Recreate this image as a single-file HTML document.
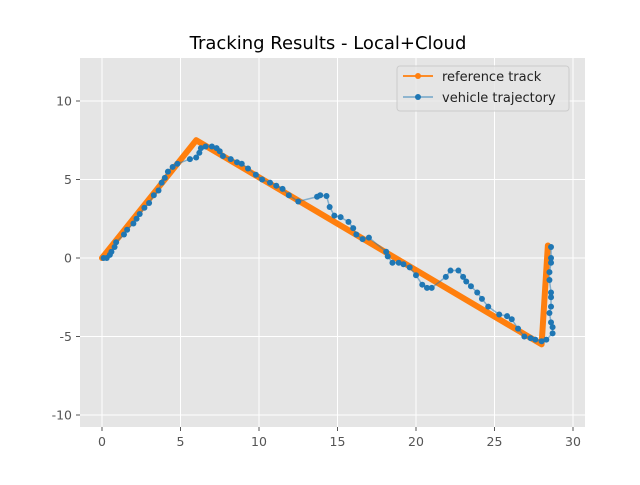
<!DOCTYPE html>
<html><head><meta charset="utf-8"><style>
body{margin:0;background:#fff;font-family:"Liberation Sans","DejaVu Sans",sans-serif}
svg text{font-family:"DejaVu Sans","Liberation Sans",sans-serif}
</style></head><body>
<svg id="chart" width="640" height="480">
<rect x="0" y="0" width="640" height="480" fill="#fff"/>
<rect x="80" y="58" width="505" height="369" fill="#e5e5e5"/>
<g id="grid"></g><g id="ticks"></g><g id="series"></g>
<text x="328" y="49" font-size="18" text-anchor="middle" fill="#000">Tracking Results - Local+Cloud</text>
<g>
<rect x="397" y="66" width="172" height="45" rx="3" fill="#e5e5e5" fill-opacity="0.8" stroke="#ccc"/>
<g>
<line x1="403" y1="76" x2="433" y2="76" stroke="#ff7f0e" stroke-width="1.8"/><circle cx="418" cy="76" r="3" fill="#ff7f0e"/>
<text x="442" y="81" font-size="13" fill="#222">reference track</text></g>
<g>
<line x1="403" y1="97" x2="433" y2="97" stroke="#1f77b4" stroke-opacity="0.5" stroke-width="1.8"/><circle cx="418" cy="97" r="3" fill="#1f77b4"/>
<text x="442" y="102" font-size="13" fill="#222">vehicle trajectory</text></g>
</g>
</svg>
<script>
const xTicks=[0,5,10,15,20,25,30];
const yTicks=[-10,-5,0,5,10];
const refX=[0,6,28,28.4];
const refY=[0,7.5,-5.5,0.8];
const vehX=[0.1,0.3,0.5,0.6,0.8,0.9,1.4,1.6,2.0,2.2,2.4,2.7,3.0,3.3,3.6,3.8,4.0,4.2,4.5,4.8,5.6,6.0,6.2,6.3,6.6,7.0,7.3,7.5,7.7,8.2,8.6,8.9,9.3,9.8,10.2,10.7,11.1,11.5,11.9,12.5,13.7,13.9,14.3,14.5,14.8,15.2,15.7,16.0,16.2,16.6,17.0,18.1,18.2,18.5,18.9,19.2,19.6,20.0,20.4,20.7,21.0,21.9,22.2,22.7,23.0,23.2,23.5,23.9,24.2,24.6,25.3,25.8,26.1,26.5,26.9,27.3,27.6,28.0,28.3,28.7,28.7,28.6,28.5,28.6,28.6,28.6,28.5,28.5,28.6,28.6,28.6];
const vehY=[0,0,0.2,0.4,0.7,1.0,1.5,1.8,2.2,2.5,2.8,3.2,3.5,4.0,4.3,4.8,5.1,5.5,5.8,6.0,6.3,6.4,6.7,7.0,7.1,7.1,7.0,6.8,6.5,6.3,6.1,6.0,5.7,5.3,5.0,4.8,4.6,4.4,4.0,3.6,3.9,4.0,3.95,3.25,2.7,2.6,2.3,1.9,1.5,1.2,1.3,0.4,0.1,-0.3,-0.3,-0.4,-0.6,-1.1,-1.7,-1.9,-1.9,-1.2,-0.8,-0.8,-1.2,-1.5,-1.8,-2.2,-2.6,-3.1,-3.6,-3.7,-3.9,-4.5,-5.0,-5.1,-5.2,-5.3,-5.2,-4.8,-4.4,-4.1,-3.5,-3.1,-2.5,-2.2,-1.4,-0.9,-0.3,0,0.7];
const NS='http://www.w3.org/2000/svg';
const sx=v=>102+v*15.7, sy=v=>258-v*15.7;
function mk(tag,attrs,parent){const e=document.createElementNS(NS,tag);for(const k in attrs)e.setAttribute(k,attrs[k]);parent.appendChild(e);return e;}
const grid=document.getElementById('grid'),ticks=document.getElementById('ticks'),ser=document.getElementById('series');
xTicks.forEach(t=>{const x=sx(t);
 const g=mk('line',{x1:x,x2:x,y1:58,y2:427,stroke:'#fff','stroke-width':1},grid);
 
 
 mk('line',{x1:x,x2:x,y1:427,y2:431,stroke:'#555'},ticks);
 const l=mk('text',{x:x,y:446,'font-size':12.5,'text-anchor':'middle',fill:'#555'},ticks);l.textContent=t;
 
 });
yTicks.forEach(t=>{const y=sy(t);
 const g=mk('line',{x1:80,x2:585,y1:y,y2:y,stroke:'#fff','stroke-width':1},grid);
 
 
 mk('line',{x1:76,x2:80,y1:y,y2:y,stroke:'#555'},ticks);
 const l=mk('text',{x:72,y:y+4.5,'font-size':12.5,'text-anchor':'end',fill:'#555'},ticks);l.textContent=t;
 
 });
const rp=refX.map((x,i)=>sx(x)+','+sy(refY[i])).join(' ');
const ref=mk('polyline',{points:rp,fill:'none',stroke:'#ff7f0e','stroke-width':6,'stroke-linejoin':'round','stroke-linecap':'round'},ser);


const vp=vehX.map((x,i)=>sx(x)+','+sy(vehY[i])).join(' ');
const vl=mk('polyline',{points:vp,fill:'none',stroke:'#1f77b4','stroke-opacity':0.5,'stroke-width':1.5},ser);


vehX.forEach((x,i)=>{const c=mk('circle',{cx:sx(x),cy:sy(vehY[i]),r:3,fill:'#1f77b4'},ser);
 
 });
</script>
</body></html>
